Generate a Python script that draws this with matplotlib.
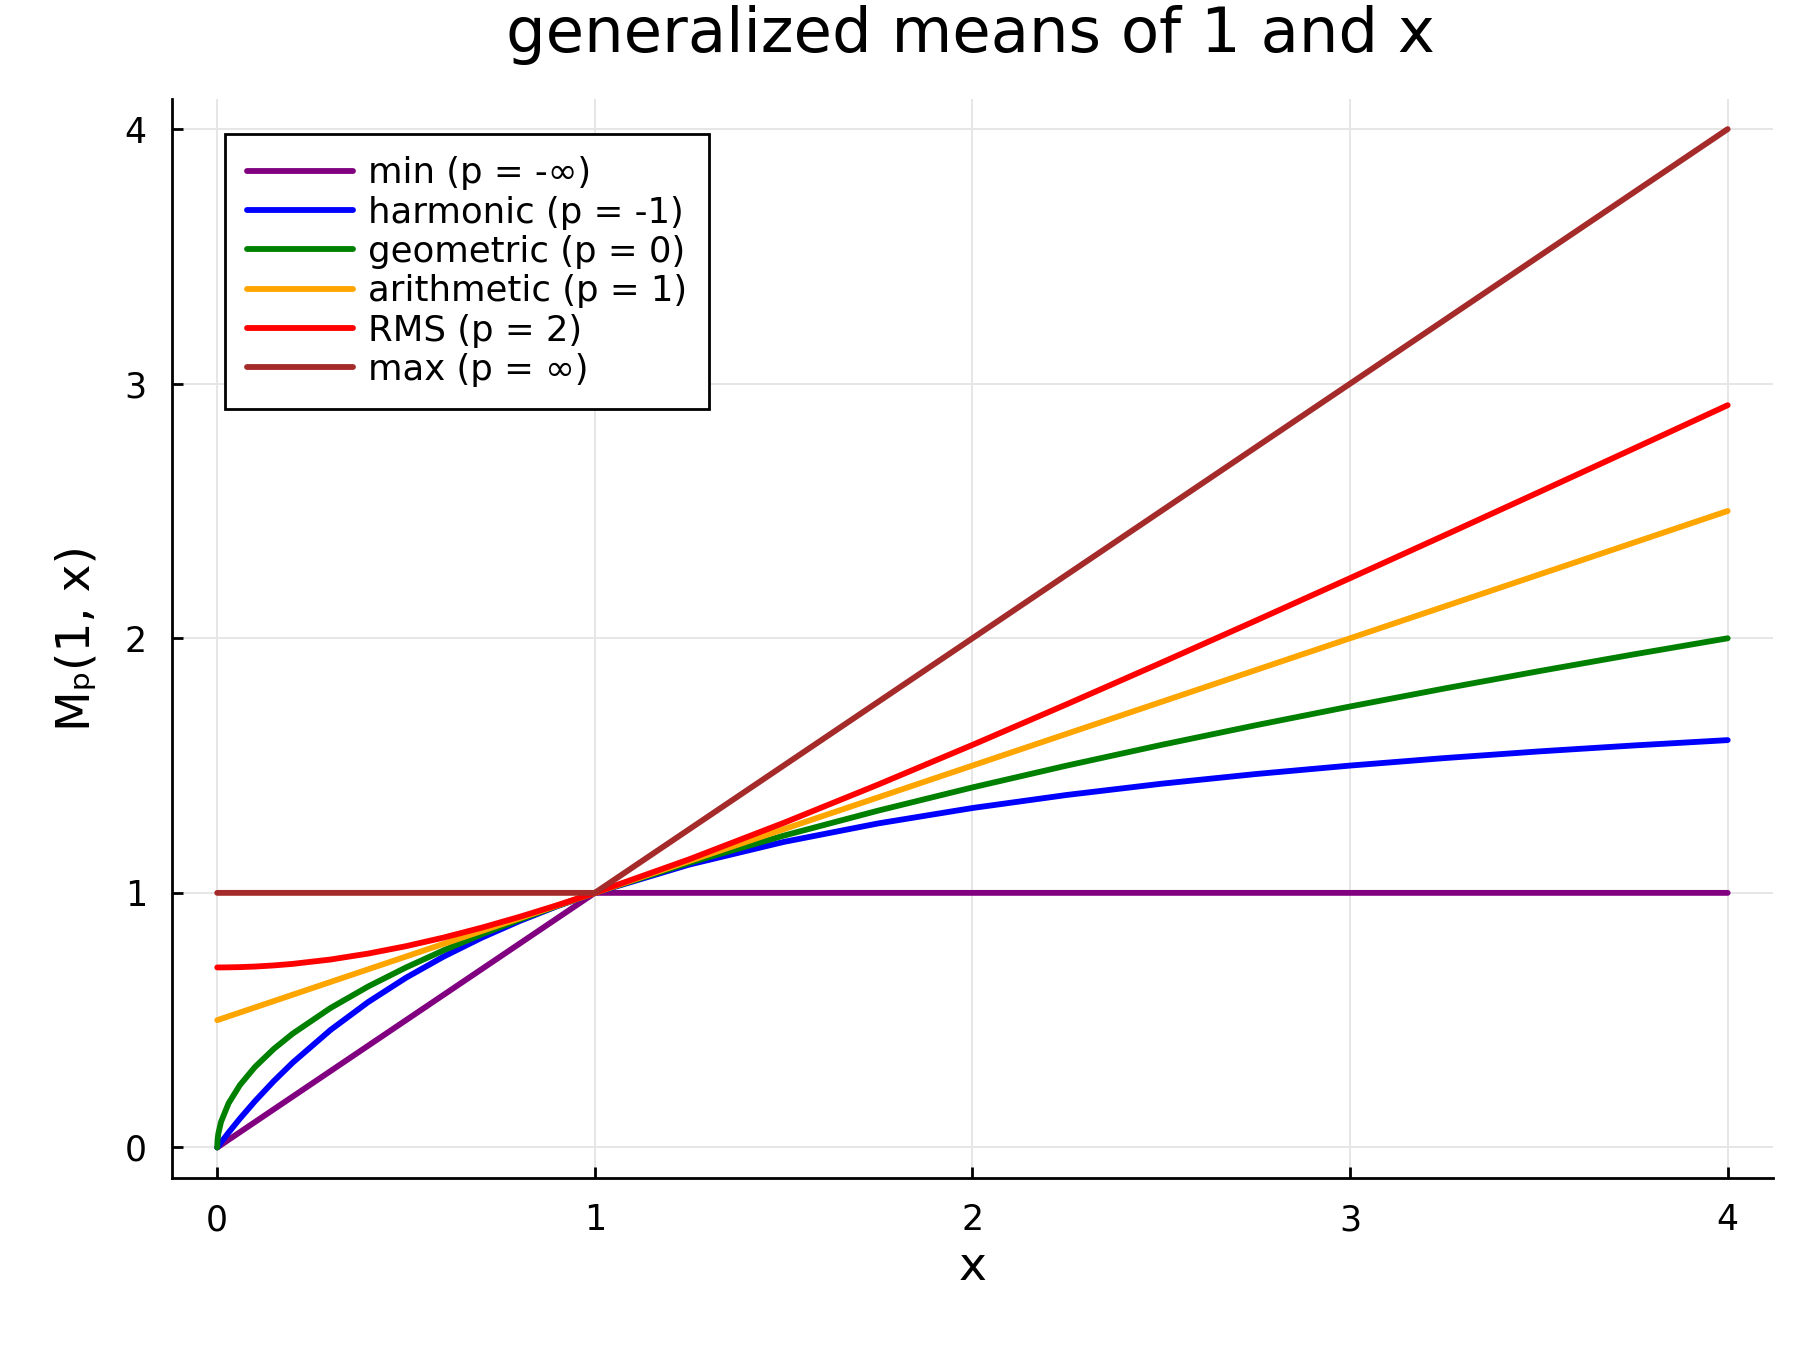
import matplotlib
matplotlib.use('Agg')
import matplotlib.pyplot as plt

# x samples and the mean values
xs = [0, 0.001, 0.003, 0.01, 0.03, 0.06, 0.1, 0.15, 0.2, 0.3, 0.4, 0.5, 0.6, 0.7,
      0.8, 0.9, 1.0, 1.25, 1.5, 1.75, 2.0, 2.25, 2.5, 2.75, 3.0, 3.25, 3.5, 3.75, 4.0]

min_vals = [0, 0.001, 0.003, 0.01, 0.03, 0.06, 0.1, 0.15, 0.2, 0.3, 0.4, 0.5, 0.6, 0.7,
            0.8, 0.9, 1.0, 1, 1, 1, 1, 1, 1, 1, 1, 1, 1, 1, 1]
harm_vals = [0, 0.002, 0.006, 0.0198, 0.0583, 0.1132, 0.1818, 0.2609, 0.3333, 0.4615,
             0.5714, 0.6667, 0.75, 0.8235, 0.8889, 0.9474, 1.0, 1.1111, 1.2, 1.2727,
             1.3333, 1.3846, 1.4286, 1.4667, 1.5, 1.5294, 1.5556, 1.5789, 1.6]
geom_vals = [0, 0.0316, 0.0548, 0.1, 0.1732, 0.2449, 0.3162, 0.3873, 0.4472, 0.5477,
             0.6325, 0.7071, 0.7746, 0.8367, 0.8944, 0.9487, 1.0, 1.118, 1.2247, 1.3229,
             1.4142, 1.5, 1.5811, 1.6583, 1.7321, 1.8028, 1.8708, 1.9365, 2.0]
arith_vals = [0.5, 0.5005, 0.5015, 0.505, 0.515, 0.53, 0.55, 0.575, 0.6, 0.65, 0.7,
              0.75, 0.8, 0.85, 0.9, 0.95, 1.0, 1.125, 1.25, 1.375, 1.5, 1.625, 1.75,
              1.875, 2.0, 2.125, 2.25, 2.375, 2.5]
rms_vals = [0.7071, 0.7071, 0.7071, 0.7071, 0.7074, 0.7084, 0.7106, 0.715, 0.7211,
            0.7382, 0.7616, 0.7906, 0.8246, 0.8631, 0.9055, 0.9513, 1.0, 1.1319, 1.2748,
            1.4252, 1.5811, 1.7411, 1.9039, 2.0691, 2.2361, 2.4044, 2.5739, 2.7443, 2.9155]
max_vals = [1, 1, 1, 1, 1, 1, 1, 1, 1, 1, 1, 1, 1, 1, 1, 1, 1.0, 1.25, 1.5, 1.75, 2.0,
            2.25, 2.5, 2.75, 3.0, 3.25, 3.5, 3.75, 4.0]

labels = ['min (p = -∞)', 'harmonic (p = -1)', 'geometric (p = 0)',
          'arithmetic (p = 1)', 'RMS (p = 2)', 'max (p = ∞)']
colors = ['purple', 'blue', 'green', 'orange', 'red', 'brown']
series = [min_vals, harm_vals, geom_vals, arith_vals, rms_vals, max_vals]

fig = plt.figure(figsize=(9, 6.75), dpi=200)
ax = fig.add_axes([0.0955, 0.1274, 0.8895, 0.7996])

for ys, lab, c in zip(series, labels, colors):
    ax.plot(xs, ys, color=c, lw=2.1, label=lab, solid_capstyle='round',
            solid_joinstyle='round')

ax.set_xlim(-0.12, 4.12)
ax.set_ylim(-0.12, 4.12)
ax.set_xticks([0, 1, 2, 3, 4])
ax.set_yticks([0, 1, 2, 3, 4])
ax.grid(True, color='#e6e6e6', lw=0.7)
ax.set_axisbelow(True)
for s in ['top', 'right']:
    ax.spines[s].set_visible(False)
for s in ['left', 'bottom']:
    ax.spines[s].set_linewidth(1.0)
ax.tick_params(direction='in', length=4, width=1.0, labelsize=12.5, pad=9)

ax.set_xlabel('x', fontsize=17, labelpad=3)
ax.set_ylabel('Mₚ(1, x)', fontsize=17, labelpad=9)
fig.text(0.539, 0.974, 'generalized means of 1 and x', fontsize=22.5, ha='center', va='center')

leg = ax.legend(loc='upper left', bbox_to_anchor=(0.033, 0.967), borderaxespad=0,
                fontsize=12.8, handlelength=3.0, handletextpad=0.4, labelspacing=0.15,
                fancybox=False, framealpha=1, edgecolor='black', borderpad=0.62)
leg.get_frame().set_linewidth(1.0)

fig.savefig('out.png', dpi=200)
